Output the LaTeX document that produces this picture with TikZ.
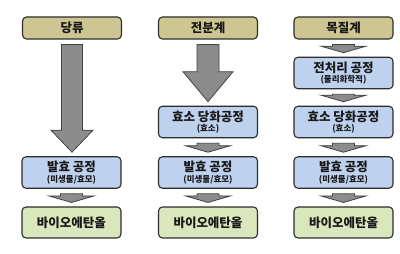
\documentclass[tikz,border=0pt]{standalone}
\usepackage{fontspec}
\setmainfont{Noto Sans CJK KR}
\usetikzlibrary{calc}
\definecolor{hdrfill}{RGB}{206,198,146}
\definecolor{bluefill}{RGB}{190,210,238}
\definecolor{greenfill}{RGB}{218,230,188}
\definecolor{boxline}{RGB}{45,45,45}
\definecolor{arrfill}{RGB}{140,140,140}
\definecolor{txt}{RGB}{25,25,25}
\tikzset{
  box/.style={draw=boxline, line width=1.1pt, rounded corners=4pt, minimum width=99pt, inner sep=0pt, align=center, text=txt, font=\bfseries\fontsize{12.5}{13}\selectfont},
  hdr/.style={box, fill=hdrfill, minimum height=22pt},
  proc/.style={box, fill=bluefill, minimum height=31.5pt},
  prod/.style={box, fill=greenfill, minimum height=31pt},
  arr/.style={draw=boxline!90, line width=0.8pt, fill=arrfill, line join=miter},
}
\newcommand\sub[1]{\\[-2.5pt]{\fontsize{8.5}{9}\selectfont #1}}
% #1 from node, #2 to node, #3 shaft half width, #4 head half width, #5 head length
\newcommand\fatarrow[5]{%
  \path[arr] let \p1=($(#1.south)+(0,5)$), \p2=($(#2.north)+(0,-4)$) in
    (\x1-#3pt,\y1) -- (\x1+#3pt,\y1) -- (\x1+#3pt,\y2+#5pt) -- (\x1+#4pt,\y2+#5pt)
    -- (\x1,\y2) -- (\x1-#4pt,\y2+#5pt) -- (\x1-#3pt,\y2+#5pt) -- cycle;}
\begin{document}
\begin{tikzpicture}[x=1pt,y=-1pt]
\useasboundingbox (0,0) rectangle (400,254);
% column 1
\node[hdr]  (h1) at (72,28)    {당류};
\node[proc] (f1) at (71.5,172.5) {발효 공정\sub{(미생물/효모)}};
\node[prod] (b1) at (71.5,222.5) {바이오에탄올};
% column 2
\node[hdr]  (h2) at (208,28)   {전분계};
\node[proc] (e2) at (208,122)  {효소 당화공정\sub{(효소)}};
\node[proc] (f2) at (208,172.5) {발효 공정\sub{(미생물/효모)}};
\node[prod] (b2) at (208,222.5) {바이오에탄올};
% column 3
\node[hdr]  (h3) at (343.5,28) {목질계};
\node[proc] (p3) at (343.5,73) {전처리 공정\sub{(물리화학적)}};
\node[proc] (e3) at (343.5,122) {효소 당화공정\sub{(효소)}};
\node[proc] (f3) at (343.5,172.5) {발효 공정\sub{(미생물/효모)}};
\node[prod] (b3) at (343.5,222.5) {바이오에탄올};
% arrows
\fatarrow{h1}{f1}{10.5}{21}{22}
\fatarrow{f1}{b1}{11}{22.5}{6.5}
\fatarrow{h2}{e2}{11}{25}{30}
\fatarrow{e2}{f2}{11}{22.5}{6.5}
\fatarrow{f2}{b2}{11}{22.5}{6.5}
\fatarrow{h3}{p3}{11}{22.5}{6.5}
\fatarrow{p3}{e3}{11}{22.5}{6.5}
\fatarrow{e3}{f3}{11}{22.5}{6.5}
\fatarrow{f3}{b3}{11}{22.5}{6.5}
\end{tikzpicture}
\end{document}
